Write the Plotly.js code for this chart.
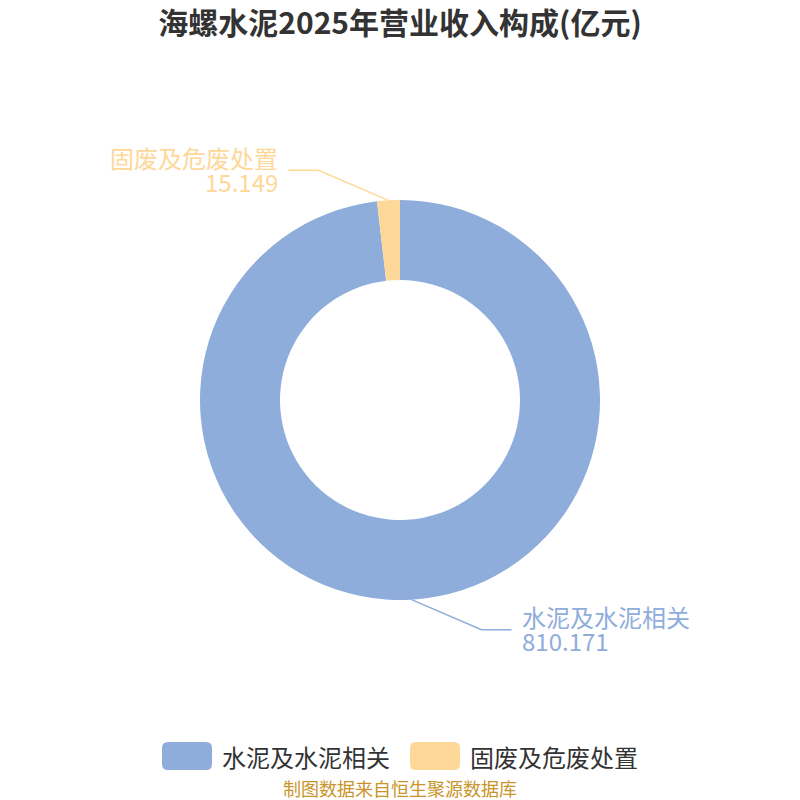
<!DOCTYPE html>
<html>
<head>
<meta charset="utf-8">
<script src="https://cdn.plot.ly/plotly-3.0.1.min.js"></script>
<style>
  body { margin: 0; background: #fff; }
  #chart { width: 800px; height: 800px; }
</style>
</head>
<body>
<div id="chart"></div>
<script>
var categories = ['水泥及水泥相关', '固废及危废处置']
var revenue = [810.171, 15.149]
var colors = ['#8faddb', '#fed899']

var FONT = '"Noto Sans CJK SC", "Noto Sans", sans-serif'

// plot area is 400x400 px centred on the page, so 1 paper unit = 400 px
var PX = 1 / 400

var total = revenue.reduce(function (a, b) { return a + b }, 0)
var shapes = []
var annotations = []

// leader lines + outside labels, placed from each slice's mid angle
var cum = 0
for (var i = 0; i < revenue.length; i++) {
  var mid = (cum + revenue[i] / 2) / total * 2 * Math.PI
  cum += revenue[i]
  var sx = Math.sin(mid) >= 0 ? 1 : -1
  var sy = Math.cos(mid) >= 0 ? 1 : -1
  var ex = 0.5 + 0.5 * Math.sin(mid)
  var ey = 0.5 + 0.5 * Math.cos(mid)
  var kx = ex + sx * 70 * PX
  var ky = ey + sy * 30 * PX
  var hx = kx + sx * 30 * PX
  shapes.push({
    type: 'path', xref: 'paper', yref: 'paper',
    path: 'M ' + ex + ' ' + ey + ' L ' + kx + ' ' + ky + ' L ' + hx + ' ' + ky,
    line: { color: colors[i], width: 1.5 }
  })
  var lines = [categories[i], revenue[i].toFixed(3)]
  var offs = [13, -11]
  for (var k = 0; k < 2; k++) {
    annotations.push({
      xref: 'paper', yref: 'paper',
      x: hx + sx * 8 * PX, y: ky + offs[k] * PX,
      xanchor: sx > 0 ? 'left' : 'right', yanchor: 'middle',
      text: lines[k],
      showarrow: false,
      font: { family: FONT, size: 24, color: colors[i] }
    })
  }
}

// custom legend with wide rounded swatches
function roundRect (x0, y0, x1, y1, r) {
  return 'M ' + (x0 + r) + ' ' + y0 +
    ' L ' + (x1 - r) + ' ' + y0 + ' Q ' + x1 + ' ' + y0 + ' ' + x1 + ' ' + (y0 + r) +
    ' L ' + x1 + ' ' + (y1 - r) + ' Q ' + x1 + ' ' + y1 + ' ' + (x1 - r) + ' ' + y1 +
    ' L ' + (x0 + r) + ' ' + y1 + ' Q ' + x0 + ' ' + y1 + ' ' + x0 + ' ' + (y1 - r) +
    ' L ' + x0 + ' ' + (y0 + r) + ' Q ' + x0 + ' ' + y0 + ' ' + (x0 + r) + ' ' + y0 + ' Z'
}
var legendX = [162, 410]
for (var j = 0; j < categories.length; j++) {
  var lx = (legendX[j] - 200) * PX
  shapes.push({
    type: 'path', xref: 'paper', yref: 'paper',
    path: roundRect(lx, (600 - 770) * PX, lx + 50 * PX, (600 - 742) * PX, 6 * PX),
    fillcolor: colors[j], line: { width: 0 }
  })
  annotations.push({
    xref: 'paper', yref: 'paper',
    x: lx + 58 * PX, y: (600 - 756) * PX,
    xanchor: 'left', yanchor: 'middle',
    text: categories[j], showarrow: false,
    font: { family: FONT, size: 24, color: '#333333' }
  })
}

annotations.push({
  xref: 'paper', yref: 'paper', x: 0.5, y: (600 - 788) * PX,
  xanchor: 'center', yanchor: 'middle',
  text: '制图数据来自恒生聚源数据库', showarrow: false,
  font: { family: FONT, size: 18, color: '#c9952a' }
})

Plotly.newPlot('chart', [{
  type: 'pie',
  labels: categories,
  values: revenue,
  hole: 0.6,
  sort: false,
  direction: 'clockwise',
  rotation: 0,
  textinfo: 'none',
  hoverinfo: 'label+value',
  marker: { colors: colors, line: { width: 0 } },
  showlegend: false
}], {
  width: 800,
  height: 800,
  margin: { l: 200, r: 200, t: 200, b: 200 },
  paper_bgcolor: '#ffffff',
  title: {
    text: '<b>海螺水泥2025年营业收入构成(亿元)</b>',
    x: 0.5, xanchor: 'center',
    y: 1 - 23 / 800, yanchor: 'middle',
    font: { family: FONT, size: 30, color: '#333333' }
  },
  shapes: shapes,
  annotations: annotations
}, { displayModeBar: false, staticPlot: true })
</script>
</body>
</html>
